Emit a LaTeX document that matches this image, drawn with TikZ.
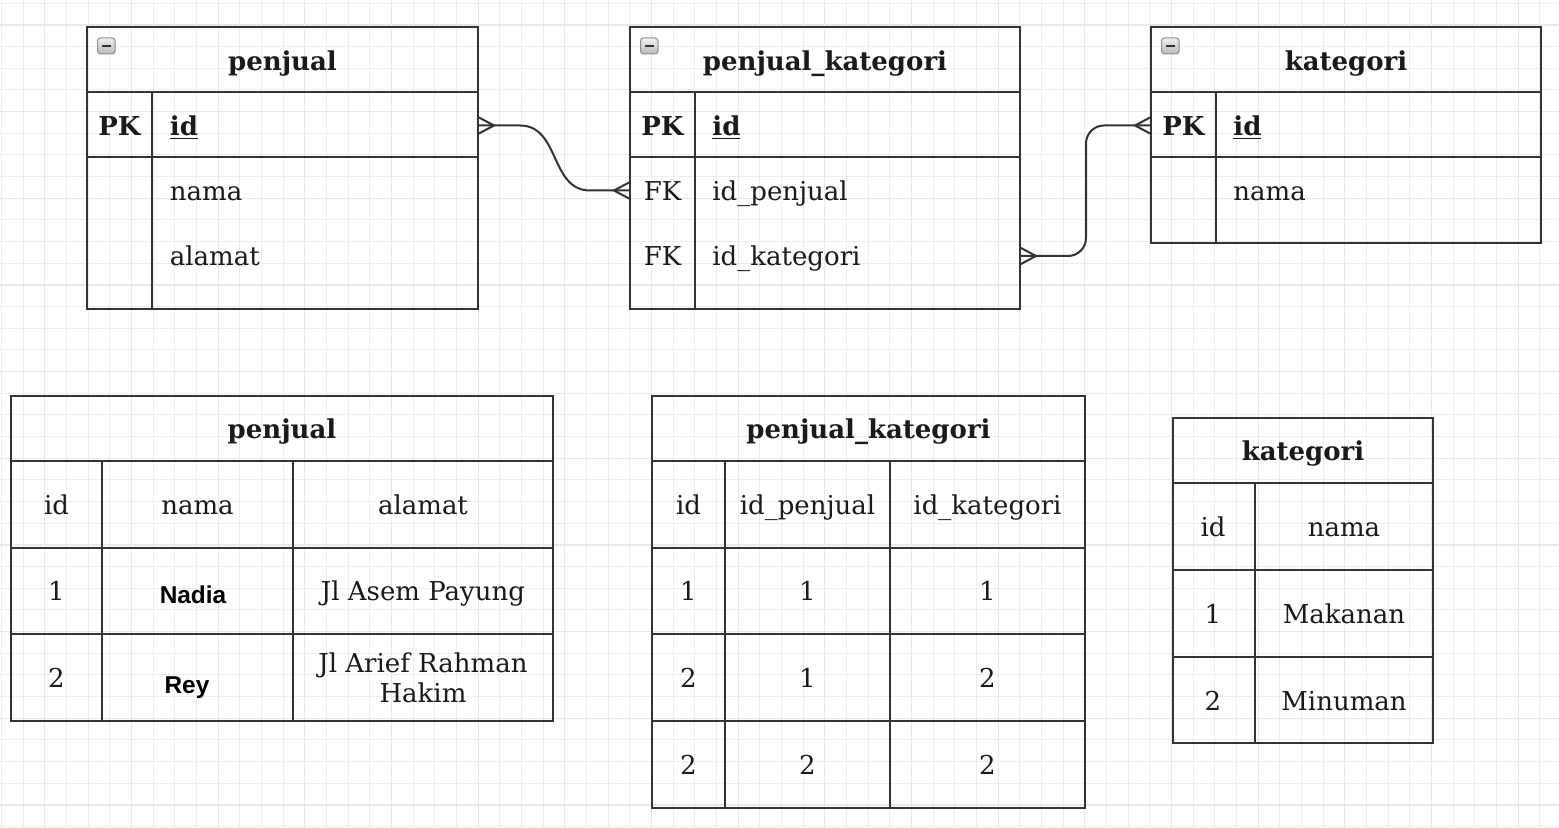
\documentclass[tikz,border=0pt]{standalone}
\usepackage{fontspec}
\setmainfont{DejaVu Serif}
\newfontfamily\sansbold{Liberation Sans}
\usetikzlibrary{calc}
\definecolor{ln}{HTML}{333333}
\definecolor{tx}{HTML}{1A1A1A}
\definecolor{gridc}{HTML}{EDEDED}
\definecolor{gridm}{HTML}{E8E8E8}
\definecolor{icontop}{HTML}{EEF0F3}
\definecolor{iconbot}{HTML}{B4B9C2}
\definecolor{iconln}{HTML}{8A8F98}
\begin{document}
\begin{tikzpicture}[x=0.5pt,y=-0.5pt,
  tbl/.style={draw=ln, line width=1pt},
  thick row/.style={draw=ln, line width=1.4pt},
  conn/.style={draw=ln, line width=1pt, line join=round},
  fnt/.style={inner sep=0pt, text=tx, font=\fontsize{13}{15.2}\selectfont},
  txt/.style={fnt, text height=9.5pt, text depth=3pt},
  ttl/.style={txt, font=\fontsize{13}{15.2}\selectfont\bfseries},
  sanstxt/.style={txt, text=black, font=\fontsize{12.2}{14}\selectfont\sansbold\bfseries},
  gridline/.style={draw=gridc, line width=0.5pt},
  gridmajor/.style={draw=gridm, line width=0.6pt},
  iconbox/.style={draw=iconln, line width=0.5pt, top color=icontop, bottom color=iconbot, rounded corners=1.5pt},
  iconbar/.style={draw=ln, line width=1pt}
]
\useasboundingbox (0,0) rectangle (1559,828);
\fill[white] (0,0) rectangle (1559,828);
% grid
\foreach \k in {0,...,71} {\draw[gridline] ({1.5+21.667*\k},0) -- ({1.5+21.667*\k},828);}
\foreach \k in {0,...,38} {\draw[gridline] (0,{3.3+21.667*\k}) -- (1559,{3.3+21.667*\k});}
\foreach \k in {2,6,...,70} {\draw[gridmajor] ({1.5+21.667*\k},0) -- ({1.5+21.667*\k},828);}
\foreach \k in {1,5,...,37} {\draw[gridmajor] (0,{3.3+21.667*\k}) -- (1559,{3.3+21.667*\k});}

% ---------- ER entities ----------
% penjual
\draw[tbl] (87,27) rectangle (478,309);
\draw[tbl] (87,92) -- (478,92);
\draw[thick row] (87,157) -- (478,157);
\draw[tbl] (152,92) -- (152,309);
% penjual_kategori
\draw[tbl] (630,27) rectangle (1020,309);
\draw[tbl] (630,92) -- (1020,92);
\draw[thick row] (630,157) -- (1020,157);
\draw[tbl] (695,92) -- (695,309);
% kategori
\draw[tbl] (1151,27) rectangle (1541,243);
\draw[tbl] (1151,92) -- (1541,92);
\draw[thick row] (1151,157) -- (1541,157);
\draw[tbl] (1216,92) -- (1216,243);
% collapse icons
\foreach \l in {87,630,1151} {
  \path[iconbox] ({\l+10.5},38) rectangle ({\l+28},54);
  \draw[iconbar] ({\l+15},46) -- ({\l+23.5},46);
}
% texts
\node[ttl] (e1title) at (282.5,64) {penjual};
\node[ttl] (e1pk) at (119.5,129) {PK};
\node[ttl, anchor=west] (e1id) at (169.5,129) {\underline{id}};
\node[txt, anchor=west] (e1nama) at (169.5,194.5) {nama};
\node[txt, anchor=west] (e1alamat) at (169.5,259) {alamat};

\node[ttl] (e2title) at (825,64) {penjual\_kategori};
\node[ttl] (e2pk) at (662.5,129) {PK};
\node[ttl, anchor=west] (e2id) at (712,129) {\underline{id}};
\node[txt] (e2fk1) at (662.5,194.5) {FK};
\node[txt, anchor=west] (e2idp) at (712,194.5) {id\_penjual};
\node[txt] (e2fk2) at (662.5,259) {FK};
\node[txt, anchor=west] (e2idk) at (712,259) {id\_kategori};

\node[ttl] (e3title) at (1346,64) {kategori};
\node[ttl] (e3pk) at (1183.5,129) {PK};
\node[ttl, anchor=west] (e3id) at (1233,129) {\underline{id}};
\node[txt, anchor=west] (e3nama) at (1233,194.5) {nama};

% connectors
\coordinate (cA) at (478,125.5);
\coordinate (cB) at (630,190.5);
\coordinate (cC) at (1020,256);
\coordinate (cD) at (1151,125.5);
\draw[conn] (cA) -- ++(42,0) .. controls +(40,0) and +(-40,0) .. ($(cB)+(-40,0)$) -- (cB);
\draw[conn] ($(cA)+(0,-8.5)$) -- ($(cA)+(16,0)$) -- ($(cA)+(0,8.5)$);
\draw[conn] ($(cB)+(0,-8.5)$) -- ($(cB)+(-16,0)$) -- ($(cB)+(0,8.5)$);
\draw[conn, rounded corners=9pt] (cC) -- ++(66,0) |- (cD);
\draw[conn] ($(cC)+(0,-8.5)$) -- ($(cC)+(16,0)$) -- ($(cC)+(0,8.5)$);
\draw[conn] ($(cD)+(0,-8.5)$) -- ($(cD)+(-16,0)$) -- ($(cD)+(0,8.5)$);

% ---------- data tables ----------
% penjual
\draw[tbl] (11,396) rectangle (553,721);
\foreach \y in {461,548,634} {\draw[tbl] (11,\y) -- (553,\y);}
\foreach \x in {102,293} {\draw[tbl] (\x,461) -- (\x,721);}
\node[ttl] (d1title) at (282,432) {penjual};
\node[txt] (d1h1) at (56.5,508) {id};
\node[txt] (d1h2) at (197.5,508) {nama};
\node[txt] (d1h3) at (423,508) {alamat};
\node[txt] (d1a1) at (56.5,594.5) {1};
\node[sanstxt] (d1a2) at (193,597) {Nadia};
\node[txt] (d1a3) at (423,594.5) {Jl Asem Payung};
\node[txt] (d1b1) at (56.5,681) {2};
\node[sanstxt] (d1b2) at (187,687) {Rey};
\node[fnt, align=center] (d1b3) at (423,678) {Jl Arief Rahman\\Hakim};

% penjual_kategori
\draw[tbl] (652,396) rectangle (1085,808);
\foreach \y in {461,548,634,721} {\draw[tbl] (652,\y) -- (1085,\y);}
\foreach \x in {725,890} {\draw[tbl] (\x,461) -- (\x,808);}
\node[ttl] (d2title) at (868.5,432) {penjual\_kategori};
\node[txt] (d2h1) at (688.5,508) {id};
\node[txt] (d2h2) at (807.5,508) {id\_penjual};
\node[txt] (d2h3) at (987.5,508) {id\_kategori};
\node[txt] (d2a1) at (688.5,594.5) {1};
\node[txt] (d2a2) at (807.5,594.5) {1};
\node[txt] (d2a3) at (987.5,594.5) {1};
\node[txt] (d2b1) at (688.5,681) {2};
\node[txt] (d2b2) at (807.5,681) {1};
\node[txt] (d2b3) at (987.5,681) {2};
\node[txt] (d2c1) at (688.5,768) {2};
\node[txt] (d2c2) at (807.5,768) {2};
\node[txt] (d2c3) at (987.5,768) {2};

% kategori
\draw[tbl] (1173,418) rectangle (1433,743);
\foreach \y in {483,570,657} {\draw[tbl] (1173,\y) -- (1433,\y);}
\draw[tbl] (1255,483) -- (1255,743);
\node[ttl] (d3title) at (1303,454) {kategori};
\node[txt] (d3h1) at (1213,530) {id};
\node[txt] (d3h2) at (1344,530) {nama};
\node[txt] (d3a1) at (1213,617) {1};
\node[txt] (d3a2) at (1344,617) {Makanan};
\node[txt] (d3b1) at (1213,703.5) {2};
\node[txt] (d3b2) at (1344,703.5) {Minuman};
\end{tikzpicture}
\end{document}
